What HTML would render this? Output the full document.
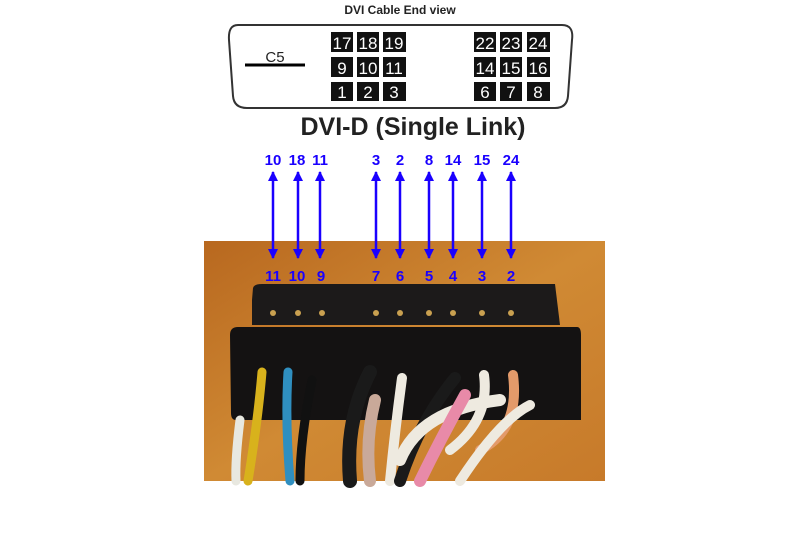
<!DOCTYPE html>
<html><head><style>
html,body{margin:0;padding:0;background:#fff;width:800px;height:533px;overflow:hidden}
svg{display:block}
text{font-family:"Liberation Sans",sans-serif}
</style></head><body>
<svg width="800" height="533" viewBox="0 0 800 533">
<defs>
<linearGradient id="bg" x1="0" y1="0" x2="1" y2="1">
<stop offset="0" stop-color="#b8681f"/><stop offset="0.5" stop-color="#d08a34"/><stop offset="1" stop-color="#c77a2a"/>
</linearGradient>
<marker id="ah" viewBox="0 0 10 10" refX="9" refY="5" markerWidth="4" markerHeight="4" orient="auto-start-reverse">
<path d="M0,0 L10,5 L0,10 z" fill="#1a00ff"/></marker>
</defs>
<text x="400" y="14" font-size="12" font-weight="bold" text-anchor="middle" fill="#222">DVI Cable End view</text>
<path d="M238,25 H562 Q574,25 572,40 L568,96 Q567,108 555,108 H247 Q234,108 233,96 L229,40 Q228,25 238,25 Z" fill="none" stroke="#333" stroke-width="2"/>
<line x1="245" y1="65" x2="305" y2="65" stroke="#000" stroke-width="3"/>
<text x="275" y="62" font-size="15" text-anchor="middle" fill="#222">C5</text>
<g font-size="17" fill="#fff" text-anchor="middle">
<g fill="#111">
<rect x="331" y="32" width="22" height="20"/><rect x="357" y="32" width="22" height="20"/><rect x="383" y="32" width="23" height="20"/>
<rect x="331" y="57" width="22" height="20"/><rect x="357" y="57" width="22" height="20"/><rect x="383" y="57" width="23" height="20"/>
<rect x="331" y="82" width="22" height="19"/><rect x="357" y="82" width="22" height="19"/><rect x="383" y="82" width="23" height="19"/>
<rect x="474" y="32" width="22" height="20"/><rect x="500" y="32" width="22" height="20"/><rect x="527" y="32" width="23" height="20"/>
<rect x="474" y="57" width="22" height="20"/><rect x="500" y="57" width="22" height="20"/><rect x="527" y="57" width="23" height="20"/>
<rect x="474" y="82" width="22" height="19"/><rect x="500" y="82" width="22" height="19"/><rect x="527" y="82" width="23" height="19"/>
</g>
<text x="342" y="49">17</text><text x="368" y="49">18</text><text x="394" y="49">19</text>
<text x="342" y="74">9</text><text x="368" y="74">10</text><text x="394" y="74">11</text>
<text x="342" y="98">1</text><text x="368" y="98">2</text><text x="394" y="98">3</text>
<text x="485" y="49">22</text><text x="511" y="49">23</text><text x="538" y="49">24</text>
<text x="485" y="74">14</text><text x="511" y="74">15</text><text x="538" y="74">16</text>
<text x="485" y="98">6</text><text x="511" y="98">7</text><text x="538" y="98">8</text>
</g>
<text x="413" y="135" font-size="25" font-weight="bold" text-anchor="middle" fill="#222">DVI-D (Single Link)</text>
<rect x="204" y="241" width="401" height="240" fill="url(#bg)"/>
<path d="M252,300 L253,288 Q254,284 262,284 H555 L560,325 H252 Z" fill="#1c1a1a"/>
<path d="M230,335 Q230,327 238,327 H577 Q581,327 581,335 V420 H236 Q231,420 231,413 Z" fill="#141212"/>
<g stroke-width="9" fill="none" stroke-linecap="round">
<path d="M262,372 Q258,420 248,481" stroke="#d8b21c"/>
<path d="M288,372 Q285,420 290,481" stroke="#2f8fc0"/>
<path d="M240,420 Q235,460 236,481" stroke="#e8e8e0"/>
<path d="M312,380 Q300,440 300,481" stroke="#111"/>
<path d="M370,372 Q345,420 350,481" stroke="#1a1a1a" stroke-width="14"/>
<path d="M375,400 Q365,440 370,481" stroke="#c9a999" stroke-width="12"/>
<path d="M402,378 Q395,430 390,481" stroke="#eeeae0" stroke-width="10"/>
<path d="M455,378 Q420,420 400,481" stroke="#1a1a1a" stroke-width="12"/>
<path d="M400,460 Q420,410 500,400" stroke="#eeeae0" stroke-width="12"/>
<path d="M465,395 Q440,440 420,481" stroke="#e88aa8" stroke-width="12"/>
<path d="M484,375 Q490,420 450,450" stroke="#eeeae0" stroke-width="10"/>
<path d="M513,375 Q520,430 480,450" stroke="#e39a6a" stroke-width="10"/>
<path d="M460,481 Q500,420 530,405" stroke="#eeeae0" stroke-width="10"/>
</g>
<g fill="#c9a050">
<circle cx="273" cy="313" r="3"/><circle cx="298" cy="313" r="3"/><circle cx="322" cy="313" r="3"/>
<circle cx="376" cy="313" r="3"/><circle cx="400" cy="313" r="3"/><circle cx="429" cy="313" r="3"/>
<circle cx="453" cy="313" r="3"/><circle cx="482" cy="313" r="3"/><circle cx="511" cy="313" r="3"/>
</g>
<g stroke="#1a00ff" stroke-width="2.5" marker-start="url(#ah)" marker-end="url(#ah)">
<line x1="273" y1="172" x2="273" y2="258"/><line x1="298" y1="172" x2="298" y2="258"/><line x1="320" y1="172" x2="320" y2="258"/>
<line x1="376" y1="172" x2="376" y2="258"/><line x1="400" y1="172" x2="400" y2="258"/><line x1="429" y1="172" x2="429" y2="258"/>
<line x1="453" y1="172" x2="453" y2="258"/><line x1="482" y1="172" x2="482" y2="258"/><line x1="511" y1="172" x2="511" y2="258"/>
</g>
<g font-size="15" font-weight="bold" fill="#1a00ff" text-anchor="middle">
<text x="273" y="165">10</text><text x="297" y="165">18</text><text x="320" y="165">11</text>
<text x="376" y="165">3</text><text x="400" y="165">2</text><text x="429" y="165">8</text>
<text x="453" y="165">14</text><text x="482" y="165">15</text><text x="511" y="165">24</text>
<text x="273" y="281">11</text><text x="297" y="281">10</text><text x="321" y="281">9</text>
<text x="376" y="281">7</text><text x="400" y="281">6</text><text x="429" y="281">5</text>
<text x="453" y="281">4</text><text x="482" y="281">3</text><text x="511" y="281">2</text>
</g>
</svg>
</body></html>
